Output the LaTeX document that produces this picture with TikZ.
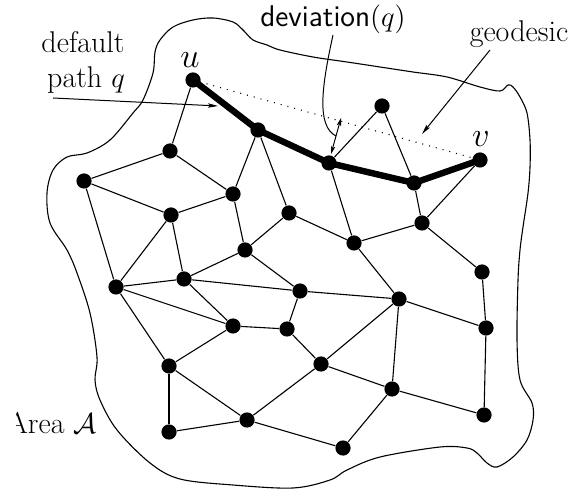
\documentclass[tikz,border=0pt]{standalone}
\usetikzlibrary{arrows.meta}
\begin{document}
\begin{tikzpicture}[x=0.5pt,y=-0.5pt,
  dot/.style={circle,fill=black,inner sep=0pt,minimum size=7.6pt},
  edge/.style={line width=0.55pt},
  thickpath/.style={line width=3.2pt,line join=round},
  geo/.style={line width=0.55pt,dash pattern=on 0.5pt off 3pt},
  lbl/.style={font=\fontsize{15}{18}\selectfont,inner sep=0pt},
  vlbl/.style={font=\fontsize{18}{21}\selectfont,inner sep=0pt},
  ptr/.style={line width=0.5pt,-{Stealth[length=5pt,width=2.2pt,inset=1pt]}},
  dptr/.style={line width=0.5pt,{Stealth[length=4pt,width=2.2pt,inset=1pt]}-{Stealth[length=4pt,width=2.2pt,inset=1pt]}},
  blob/.style={line width=0.55pt}]
\useasboundingbox (0,0) rectangle (576,490);

% area outline
\draw[blob] plot[smooth cycle,tension=0.55] coordinates {
 (155,52) (160,40) (173,27) (193,20) (213,18) (233,22) (243,30) (253,40) (267,45)
 (280,50) (313,57) (347,62) (380,67) (413,72) (447,77) (480,87) (500,91)
 (508,85) (513,87) (520,97) (527,113) (530,140) (530,167) (528,193) (523,227)
 (520,250) (518,280) (517,340) (520,380) (532,403) (533,420) (527,440) (513,457)
 (497,467) (487,463) (477,453) (467,448) (440,447) (380,457) (347,470) (330,480)
 (293,488) (233,485) (180,479) (150,463) (117,430) (100,400) (95,380) (97,357)
 (90,313) (77,273) (67,250) (50,223) (47,193) (53,170) (67,157) (87,153)
 (110,140) (133,113) (143,100) (153,73)};

% vertices
\node[dot] (u)   at (193,80) {};
\node[dot] (p1)  at (258,130) {};
\node[dot] (p2)  at (329,163) {};
\node[dot] (p3)  at (414,183) {};
\node[dot] (v)   at (480,160) {};
\node[dot] (t)   at (382,106) {};
\node[dot] (n1)  at (170,151) {};
\node[dot] (n2)  at (84,181) {};
\node[dot] (n3)  at (233,194) {};
\node[dot] (n4)  at (171,215) {};
\node[dot] (n5)  at (289,213) {};
\node[dot] (n6)  at (354,243) {};
\node[dot] (n7)  at (422,223) {};
\node[dot] (n8)  at (245,250) {};
\node[dot] (n9)  at (116,287) {};
\node[dot] (n10) at (184,279) {};
\node[dot] (n11) at (300,291) {};
\node[dot] (n12) at (399,299) {};
\node[dot] (n13) at (482,272) {};
\node[dot] (n14) at (233,326) {};
\node[dot] (n15) at (287,329) {};
\node[dot] (n16) at (486,328) {};
\node[dot] (n17) at (169,366) {};
\node[dot] (n18) at (321,364) {};
\node[dot] (n19) at (392,389) {};
\node[dot] (n20) at (484,415) {};
\node[dot] (n21) at (247,420) {};
\node[dot] (n22) at (169,432) {};
\node[dot] (n23) at (343,448) {};

% thin edges
\foreach \a/\b in {u/n1, n1/n2, n1/n3, p1/n3, p1/n5, n2/n4, n2/n9, n3/n4, n3/n8,
  n4/n9, n4/n10, n5/n8, n5/n6, p2/t, p2/n6, t/p3, p3/n7, v/n7, n6/n7, n7/n13,
  n6/n12, n8/n10, n9/n10, n9/n14, n9/n17, n10/n14, n10/n11, n8/n11, n11/n15,
  n11/n12, n14/n15, n15/n18, n12/n18, n12/n16, n12/n19, n13/n16, n16/n20,
  n18/n19, n19/n20, n18/n21, n14/n17, n17/n21, n17/n22, n22/n21, n21/n23, n19/n23}
  \draw[edge] (\a) -- (\b);

% geodesic and default path
\draw[geo] (u.center) -- (v.center);
\draw[thickpath] (u.center) -- (p1.center) -- (p2.center) -- (p3.center) -- (v.center);

% labels
\node[vlbl,anchor=base] (ulab) at (190,68) {$u$};
\node[vlbl,anchor=base] (vlab) at (481,147) {$v$};
\node[lbl,anchor=base] (deflab1) at (83,53) {default};
\node[lbl,anchor=base] (deflab2) at (86,88) {path $q$};
\node[lbl,anchor=base] (devlab) at (333,27) {\textsf{deviation}$(q)$};
\node[lbl,anchor=base] (geolab) at (519,42) {geodesic};
\begin{scope}
\clip (16,380) rectangle (120,460);
\node[lbl,anchor=base east] (arealab) at (97,433) {Area $\mathcal{A}$};
\end{scope}

% pointers
\coordinate (defS) at (53,98);
\coordinate (defE) at (218,106);
\draw[ptr] (defS) -- (defE);
\coordinate (geoS) at (490,50);
\coordinate (geoE) at (422,134);
\draw[ptr] (geoS) -- (geoE);
\coordinate (devA) at (333,35);
\coordinate (devB) at (336,136);
\draw[edge,line width=0.5pt] (devA) .. controls (322,85) and (316,126) .. (devB);
\coordinate (dLow) at (331,154);
\coordinate (dHigh) at (341,118);
\draw[dptr] (dLow) -- (dHigh);
\end{tikzpicture}
\end{document}
